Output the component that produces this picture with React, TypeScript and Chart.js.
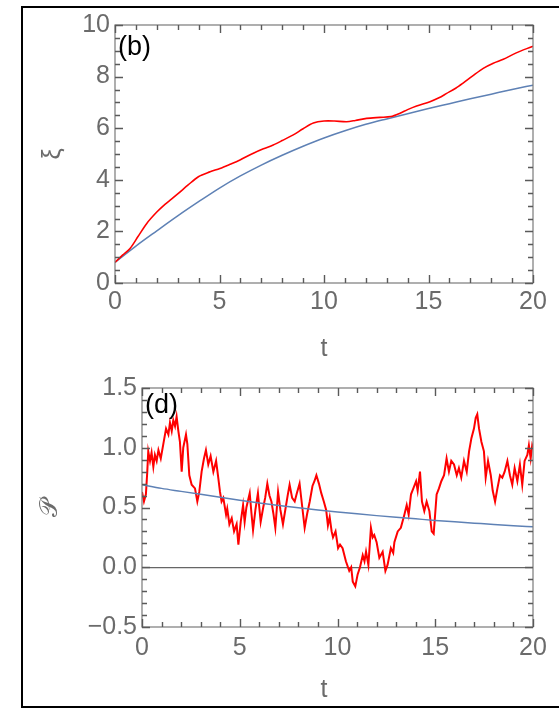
import React, { useEffect, useRef } from 'react';
import { Chart, registerables } from 'chart.js';

Chart.register(...registerables);

// ---------- Panel (b): ξ vs t ----------
const topRedT = [0, 0.36, 0.72, 1.1, 1.52, 2.0, 2.39, 2.7, 3.03, 3.5, 3.99, 4.55, 5.02, 5.5, 5.98, 6.62, 7.1, 7.57, 8.0, 8.53, 9.0, 9.49, 10.0, 10.5, 11.08, 11.5, 12.04, 12.68, 13.2, 13.64, 14.0, 14.43, 15.07, 15.5, 15.87, 16.3, 16.67, 17.1, 17.62, 18.1, 18.58, 19.2, 19.94, 20];
const topRedXi = [0.8, 1.08, 1.34, 1.8, 2.31, 2.75, 3.05, 3.25, 3.47, 3.8, 4.12, 4.31, 4.44, 4.6, 4.77, 5.03, 5.2, 5.35, 5.52, 5.74, 5.98, 6.2, 6.28, 6.28, 6.25, 6.3, 6.38, 6.42, 6.45, 6.58, 6.72, 6.86, 7.03, 7.18, 7.35, 7.55, 7.76, 8.02, 8.32, 8.52, 8.67, 8.92, 9.16, 9.18];
const topBlueT = [0, 1, 2, 3, 4, 5, 6, 7, 8, 9, 10, 11, 12, 13, 14, 15, 16, 17, 18, 19, 20];
const topBlueXi = [0.8, 1.43, 2.02, 2.6, 3.15, 3.68, 4.15, 4.57, 4.95, 5.3, 5.62, 5.9, 6.15, 6.36, 6.56, 6.76, 6.95, 7.14, 7.32, 7.5, 7.67];
const topYTicks = [0, 2, 4, 6, 8, 10];

// frame tick marks (value, isMajor)
const topXMinor = [0, 1, 2, 3, 4, 5, 6, 7, 8, 9, 10, 11, 12, 13, 14, 15, 16, 17, 18, 19, 20];
const topYMinor = [0, 0.5, 1, 1.5, 2, 2.5, 3, 3.5, 4, 4.5, 5, 5.5, 6, 6.5, 7, 7.5, 8, 8.5, 9, 9.5, 10];
const botYMinor = [-0.5, -0.4, -0.3, -0.2, -0.1, 0, 0.1, 0.2, 0.3, 0.4, 0.5, 0.6, 0.7, 0.8, 0.9, 1.0, 1.1, 1.2, 1.3, 1.4, 1.5];

// ---------- Panel (d): 𝒫 vs t ----------
const botRedT = [0.0, 0.1, 0.2, 0.27, 0.32, 0.41, 0.49, 0.58, 0.66, 0.75, 0.84, 0.96, 1.09, 1.23, 1.35, 1.43, 1.52, 1.6, 1.69, 1.77, 1.86, 1.94, 2.03, 2.11, 2.25, 2.32, 2.42, 2.54, 2.71, 2.83, 2.93, 3.05, 3.17, 3.27, 3.39, 3.51, 3.65, 3.79, 3.9, 3.99, 4.07, 4.16, 4.3, 4.36, 4.47, 4.59, 4.71, 4.84, 4.93, 5.05, 5.17, 5.25, 5.34, 5.51, 5.6, 5.68, 5.8, 5.93, 6.07, 6.2, 6.3, 6.41, 6.52, 6.62, 6.72, 6.82, 6.96, 7.08, 7.21, 7.35, 7.45, 7.55, 7.68, 7.81, 7.92, 8.06, 8.2, 8.32, 8.45, 8.58, 8.72, 8.82, 8.92, 9.05, 9.17, 9.3, 9.42, 9.51, 9.6, 9.7, 9.77, 9.9, 10.03, 10.13, 10.26, 10.43, 10.6, 10.7, 10.78, 10.91, 11.03, 11.15, 11.29, 11.38, 11.46, 11.58, 11.71, 11.8, 11.88, 12.0, 12.14, 12.31, 12.45, 12.56, 12.73, 12.85, 12.91, 13.08, 13.24, 13.42, 13.54, 13.64, 13.76, 13.88, 14.02, 14.1, 14.22, 14.32, 14.44, 14.56, 14.7, 14.82, 14.92, 15.07, 15.19, 15.31, 15.45, 15.58, 15.7, 15.82, 15.96, 16.1, 16.21, 16.33, 16.47, 16.61, 16.73, 16.85, 16.98, 17.07, 17.15, 17.24, 17.36, 17.49, 17.58, 17.7, 17.84, 17.94, 18.06, 18.18, 18.31, 18.43, 18.55, 18.69, 18.82, 18.94, 19.06, 19.2, 19.33, 19.45, 19.57, 19.71, 19.79, 19.88, 19.96, 20.0];
const botRedP = [0.63, 0.55, 0.61, 0.8, 0.97, 0.89, 0.96, 0.84, 0.94, 0.89, 0.98, 0.91, 1.03, 1.16, 1.11, 1.21, 1.14, 1.23, 1.18, 1.26, 1.14, 1.05, 0.8, 1.0, 1.11, 1.03, 0.77, 0.69, 0.66, 0.55, 0.63, 0.8, 0.91, 0.98, 0.86, 0.93, 0.8, 0.89, 0.75, 0.63, 0.55, 0.58, 0.44, 0.49, 0.36, 0.41, 0.3, 0.36, 0.19, 0.38, 0.52, 0.38, 0.5, 0.62, 0.45, 0.31, 0.48, 0.62, 0.38, 0.5, 0.58, 0.7, 0.6, 0.55, 0.45, 0.33, 0.63, 0.48, 0.36, 0.5, 0.6, 0.69, 0.58, 0.55, 0.62, 0.7, 0.5, 0.33, 0.45, 0.55, 0.68, 0.72, 0.77, 0.7, 0.62, 0.55, 0.48, 0.35, 0.42, 0.3, 0.25, 0.3, 0.16, 0.19, 0.16, 0.05, -0.03, 0.0, -0.12, -0.16, -0.06, 0.0, 0.1, 0.05, 0.13, 0.02, 0.33, 0.25, 0.27, 0.21, 0.08, 0.13, -0.03, 0.02, 0.16, 0.12, 0.21, 0.3, 0.33, 0.44, 0.52, 0.44, 0.61, 0.66, 0.72, 0.64, 0.8, 0.55, 0.47, 0.55, 0.47, 0.3, 0.28, 0.61, 0.66, 0.72, 0.77, 0.91, 0.8, 0.89, 0.86, 0.77, 0.83, 0.75, 0.89, 0.8, 0.97, 1.08, 1.16, 1.25, 1.28, 1.16, 1.05, 0.97, 0.75, 0.89, 0.77, 0.64, 0.55, 0.66, 0.77, 0.75, 0.8, 0.89, 0.77, 0.69, 0.83, 0.72, 0.86, 0.69, 0.89, 0.94, 1.02, 0.91, 1.02, 1.0];
const botBlueT = [0, 1, 2, 3, 4, 5, 6, 7, 8, 9, 10, 11, 12, 13, 14, 15, 16, 17, 18, 19, 20];
const botBlueP = [0.69, 0.66, 0.635, 0.61, 0.585, 0.56, 0.538, 0.517, 0.498, 0.48, 0.463, 0.447, 0.432, 0.418, 0.405, 0.392, 0.38, 0.369, 0.358, 0.348, 0.339];

const FONT = '"Liberation Sans", Arial, "DejaVu Sans", sans-serif';
const LABEL_GRAY = '#6b6b6b';
const FRAME_GRAY = '#7a7a7a';
const TICK_GRAY = '#5a5a5a';
const RED = '#ff0000';
const BLUE = 'rgb(94,129,181)';

const pts = (xs: number[], ys: number[]) => xs.map((x, i) => ({ x, y: ys[i] }));

const isMultiple = (v: number, step: number) => Math.abs(v / step - Math.round(v / step)) < 1e-6;

function makeFramePlugin(o: any) {
  return {
    id: 'mathFrame',
    afterDraw(chart: any) {
      const ctx = chart.ctx;
      const ca = chart.chartArea;
      const xs = chart.scales.x;
      const ys = chart.scales.y;
      ctx.save();
      ctx.strokeStyle = FRAME_GRAY;
      ctx.lineWidth = 1.2;
      ctx.strokeRect(ca.left, ca.top, ca.right - ca.left, ca.bottom - ca.top);

      ctx.strokeStyle = TICK_GRAY;
      ctx.lineWidth = 1.4;
      o.xTicks.forEach((v: number) => {
        const len = isMultiple(v, o.xMajor) ? 8 : 5;
        const px = Math.round(xs.getPixelForValue(v)) + 0.5;
        ctx.beginPath();
        ctx.moveTo(px, ca.bottom);
        ctx.lineTo(px, ca.bottom - len);
        ctx.moveTo(px, ca.top);
        ctx.lineTo(px, ca.top + len);
        ctx.stroke();
      });
      o.yTicks.forEach((v: number) => {
        const len = isMultiple(v, o.yMajor) ? 8 : 5;
        const py = Math.round(ys.getPixelForValue(v)) + 0.5;
        ctx.beginPath();
        ctx.moveTo(ca.left, py);
        ctx.lineTo(ca.left + len, py);
        ctx.moveTo(ca.right, py);
        ctx.lineTo(ca.right - len, py);
        ctx.stroke();
      });

      ctx.fillStyle = '#000';
      ctx.font = `27px ${FONT}`;
      ctx.textAlign = 'left';
      ctx.textBaseline = 'alphabetic';
      ctx.fillText(o.panel, ca.left + 3, ca.top + o.panelDy);

      ctx.fillStyle = LABEL_GRAY;
      ctx.font = `25px ${FONT}`;
      ctx.textAlign = 'center';
      ctx.textBaseline = 'middle';
      ctx.fillText(o.xTitle, o.xTitleX, o.xTitleY);
      ctx.restore();
    },
  };
}

function makeConfig(p: any) {
  return {
    type: 'line',
    data: { datasets: p.datasets },
    options: {
      animation: false,
      responsive: false,
      events: [],
      layout: { padding: { left: 0, top: p.padTop, right: 26, bottom: 0 } },
      plugins: {
        legend: { display: false },
        tooltip: { enabled: false },
      },
      scales: {
        x: {
          type: 'linear',
          min: 0,
          max: 20,
          grid: { display: false, drawTicks: false },
          border: { display: false },
          ticks: {
            stepSize: 5,
            padding: p.xPad,
            color: LABEL_GRAY,
            font: { family: FONT, size: 25 },
            maxRotation: 0,
          },
          afterFit: (s: any) => { s.height = p.xHeight; },
        },
        y: {
          type: 'linear',
          min: p.yMin,
          max: p.yMax,
          grid: {
            display: true,
            drawTicks: false,
            color: (c: any) => (p.zeroLine && c.tick && c.tick.value === 0 ? '#666666' : 'rgba(0,0,0,0)'),
            lineWidth: 1.2,
          },
          border: { display: false },
          ticks: {
            stepSize: p.yStep,
            padding: 5,
            color: LABEL_GRAY,
            font: { family: FONT, size: 25 },
            callback: p.yFmt,
          },
          title: {
            display: true,
            text: p.yTitle,
            color: LABEL_GRAY,
            font: { family: '"Liberation Sans", "DejaVu Sans", sans-serif', size: 25 },
            padding: { top: p.yTitlePad, bottom: 0 },
          },
          afterFit: (s: any) => { s.width = p.yWidth; },
        },
      },
    },
    plugins: [makeFramePlugin(p.frame)],
  };
}

function useChart(ref: React.RefObject<HTMLCanvasElement>, cfg: () => any) {
  useEffect(() => {
    if (!ref.current) return;
    const c = new Chart(ref.current, cfg());
    return () => c.destroy();
  }, []);
}

export default function App() {
  const topRef = useRef<HTMLCanvasElement>(null);
  const botRef = useRef<HTMLCanvasElement>(null);

  useChart(topRef, () =>
    makeConfig({
      datasets: [
        { data: pts(topRedT, topRedXi), borderColor: RED, borderWidth: 1.6, pointRadius: 0, tension: 0.3, fill: false },
        { data: pts(topBlueT, topBlueXi), borderColor: BLUE, borderWidth: 1.5, pointRadius: 0, cubicInterpolationMode: 'monotone', fill: false },
      ],
      padTop: 25,
      xPad: 4,
      xHeight: 77,
      yMin: 0,
      yMax: 10,
      yStep: 2,
      yFmt: (v: number) => (topYTicks.includes(v) ? String(v) : ''),
      yTitle: 'ξ',
      yTitlePad: 38,
      yWidth: 115,
      zeroLine: false,
      frame: { xTicks: topXMinor, xMajor: 5, yTicks: topYMinor, yMajor: 2, panel: '(b)', panelDy: 30, xTitle: 't', xTitleX: 324, xTitleY: 349 },
    })
  );

  useChart(botRef, () =>
    makeConfig({
      datasets: [
        { data: pts(botBlueT, botBlueP), borderColor: BLUE, borderWidth: 1.5, pointRadius: 0, cubicInterpolationMode: 'monotone', fill: false },
        { data: pts(botRedT, botRedP), borderColor: RED, borderWidth: 2, pointRadius: 0, tension: 0, fill: false },
      ],
      padTop: 28,
      xPad: 6,
      xHeight: 81,
      yMin: -0.5,
      yMax: 1.5,
      yStep: 0.5,
      yFmt: (v: number) => v.toFixed(1).replace('-', '\u2212'),
      yTitle: '\u{1D4AB}',
      yTitlePad: 35,
      yWidth: 142,
      zeroLine: true,
      frame: { xTicks: topXMinor, xMajor: 5, yTicks: botYMinor, yMajor: 0.5, panel: '(d)', panelDy: 25, xTitle: 't', xTitleX: 324, xTitleY: 330 },
    })
  );

  return (
    <div style={{ position: 'absolute', left: 0, top: 0, width: 559, height: 708, overflow: 'hidden', background: '#fff' }}>
      <div style={{ position: 'absolute', left: 21, top: 6, width: 600, height: 702, border: '2px solid #000', boxSizing: 'border-box' }} />
      <canvas ref={topRef} width={559} height={360} style={{ position: 'absolute', left: 0, top: 0 }} />
      <canvas ref={botRef} width={559} height={348} style={{ position: 'absolute', left: 0, top: 360 }} />
    </div>
  );
}
